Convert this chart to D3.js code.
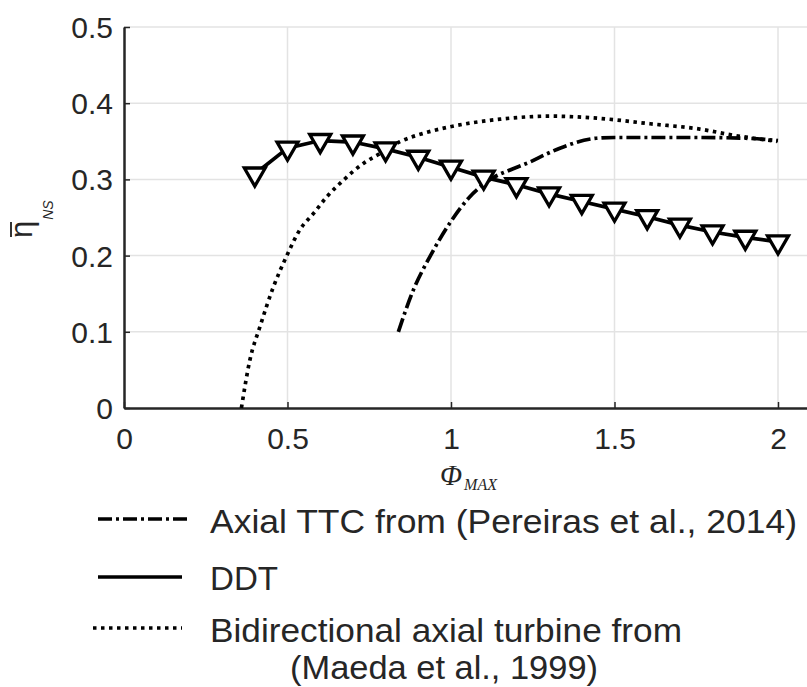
<!DOCTYPE html>
<html>
<head>
<meta charset="utf-8">
<script src="https://cdn.jsdelivr.net/npm/d3@7"></script>
<style>
  body { margin: 0; background: white; }
  svg { display: block; }
  text { font-family: "Liberation Sans", Arial, sans-serif; fill: #262626; }
</style>
</head>
<body>
<script>
var width = 807
var height = 687

// tick values
var xTicks = [0, 0.5, 1, 1.5, 2]
var yTicks = [0, 0.1, 0.2, 0.3, 0.4, 0.5]

// DDT (solid + triangles)
var ddtPhi = [0.4, 0.5, 0.6, 0.7, 0.8, 0.9, 1.0, 1.1, 1.2, 1.3, 1.4, 1.5, 1.6, 1.7, 1.8, 1.9, 2.0]
var ddtEta = [0.307, 0.341, 0.351, 0.349, 0.340, 0.329, 0.316, 0.303, 0.293, 0.281, 0.271, 0.261, 0.251, 0.240, 0.231, 0.224, 0.218]

// Axial TTC (Pereiras et al., 2014), dash-dot
var ttcPhi = [0.839, 0.885, 0.936, 1.0, 1.057, 1.128, 1.19, 1.242, 1.29, 1.333, 1.445, 1.5, 1.76, 1.9, 2.0]
var ttcEta = [0.100, 0.155, 0.199, 0.245, 0.277, 0.302, 0.314, 0.323, 0.333, 0.341, 0.354, 0.355, 0.355, 0.354, 0.351]

// Bidirectional axial turbine (Maeda et al., 1999), dotted
var maedaPhi = [0.359, 0.385, 0.416, 0.457, 0.497, 0.538, 0.579, 0.62, 0.671, 0.732, 0.783, 0.844, 0.92, 0.997, 1.15, 1.303, 1.456, 1.609, 1.761, 1.863, 1.997]
var maedaEta = [0, 0.063, 0.107, 0.159, 0.199, 0.234, 0.255, 0.277, 0.299, 0.321, 0.334, 0.3495, 0.361, 0.369, 0.379, 0.383, 0.380, 0.373, 0.366, 0.358, 0.350]

var legendLabels = ["Axial TTC from (Pereiras et al., 2014)", "DDT", "Bidirectional axial turbine from"]
var legendLabelExtra = "(Maeda et al., 1999)"

var axisColor = "#262626"
var gridColor = "#e3e3e3"
var dashDot = "14,4,3,4"
var dotted = "3.5,4.5"
var lw = 3.7

var svg = d3.select("body")
    .append("svg")
    .attr("width", width)
    .attr("height", height)

var x = d3.scaleLinear().domain([0, 2.1]).range([124, 810.7])
var y = d3.scaleLinear().domain([0, 0.5]).range([408, 27])

// grid
svg.append("g")
    .selectAll("line")
    .data(xTicks.slice(1))
    .enter()
    .append("line")
    .attr("x1", (d) => x(d)).attr("x2", (d) => x(d))
    .attr("y1", y(0)).attr("y2", y(0.5))
    .attr("stroke", gridColor)
    .attr("stroke-width", 1.5)

svg.append("g")
    .selectAll("line")
    .data(yTicks.slice(1))
    .enter()
    .append("line")
    .attr("x1", x(0)).attr("x2", width)
    .attr("y1", (d) => y(d)).attr("y2", (d) => y(d))
    .attr("stroke", gridColor)
    .attr("stroke-width", 1.5)

// axes
var xAxis = svg.append("g")
    .attr("transform", "translate(0," + y(0) + ")")
    .call(d3.axisBottom(x).tickValues(xTicks).tickSizeInner(-6).tickSizeOuter(0).tickPadding(20)
        .tickFormat(d3.format("")))
xAxis.select(".domain").attr("stroke", axisColor).attr("stroke-width", 2.5)
xAxis.selectAll(".tick line").attr("stroke", axisColor).attr("stroke-width", 1.5)
xAxis.selectAll(".tick text")
    .attr("fill", axisColor)
    .style("font-size", "30px")
    .attr("dy", "0.71em")

var yAxis = svg.append("g")
    .attr("transform", "translate(" + x(0) + ",0)")
    .call(d3.axisLeft(y).tickValues(yTicks).tickSizeInner(-6).tickSizeOuter(0).tickPadding(11)
        .tickFormat(d3.format("")))
yAxis.select(".domain").attr("stroke", axisColor).attr("stroke-width", 2.5)
yAxis.selectAll(".tick line").attr("stroke", axisColor).attr("stroke-width", 1.5)
yAxis.selectAll(".tick text")
    .attr("fill", axisColor)
    .style("font-size", "30px")
    .attr("dy", "0.35em")

// curves
var line = d3.line()
    .x(function (d) { return x(d[0]) })
    .y(function (d) { return y(d[1]) })
    .curve(d3.curveMonotoneX)

svg.append("path")
    .datum(d3.zip(maedaPhi, maedaEta))
    .attr("d", line)
    .attr("fill", "none")
    .attr("stroke", "black")
    .attr("stroke-width", lw)
    .attr("stroke-dasharray", dotted)

svg.append("path")
    .datum(d3.zip(ttcPhi, ttcEta))
    .attr("d", line)
    .attr("fill", "none")
    .attr("stroke", "black")
    .attr("stroke-width", lw)
    .attr("stroke-dasharray", dashDot)

var ddt = d3.zip(ddtPhi, ddtEta)

svg.append("path")
    .datum(ddt)
    .attr("d", d3.line().x((d) => x(d[0])).y((d) => y(d[1])))
    .attr("fill", "none")
    .attr("stroke", "black")
    .attr("stroke-width", lw)

svg.append("g")
    .selectAll("path")
    .data(ddt)
    .enter()
    .append("path")
    .attr("d", d3.symbol().type(d3.symbolTriangle).size(190))
    .attr("transform", (d) => "translate(" + x(d[0]) + "," + y(d[1]) + ") rotate(180)")
    .attr("fill", "white")
    .attr("stroke", "black")
    .attr("stroke-width", 3.3)

// axis labels
var yLabel = svg.append("g")
    .attr("transform", "translate(32,238) rotate(-90)")
yLabel.append("line")
    .attr("x1", 1).attr("x2", 16)
    .attr("y1", -21).attr("y2", -21)
    .attr("stroke", "#333")
    .attr("stroke-width", 2)
var yText = yLabel.append("text")
    .style("font-size", "31px")
yText.append("tspan").text("\u03B7")
yText.append("tspan")
    .attr("dy", 21)
    .attr("dx", 1)
    .style("font-size", "14px")
    .style("font-style", "italic")
    .text("NS")

var xLabel = svg.append("text")
    .attr("x", 440)
    .attr("y", 485)
    .style("font-family", "'Liberation Serif', 'Times New Roman', serif")
    .style("font-style", "italic")
    .style("font-size", "29px")
xLabel.append("tspan").text("\u03A6")
xLabel.append("tspan")
    .attr("dy", 5)
    .attr("dx", 2)
    .style("font-size", "16px")
    .text("MAX")

// legend
var legendRows = [
    { y: 519, x1: 98, x2: 187, dash: dashDot, ty: 533, w: 587 },
    { y: 577, x1: 98, x2: 182, dash: null, ty: 590, w: 68 },
    { y: 628, x1: 93, x2: 182, dash: dotted, ty: 642, w: 472 }
]

var legend = svg.append("g")
legend.selectAll("line")
    .data(legendRows)
    .enter()
    .append("line")
    .attr("x1", (d) => d.x1).attr("x2", (d) => d.x2)
    .attr("y1", (d) => d.y).attr("y2", (d) => d.y)
    .attr("stroke", "black")
    .attr("stroke-width", lw)
    .attr("stroke-dasharray", (d) => d.dash)

legend.selectAll("text.lab")
    .data(legendRows)
    .enter()
    .append("text")
    .attr("class", "lab")
    .attr("x", 210)
    .attr("y", (d) => d.ty)
    .attr("textLength", (d) => d.w)
    .attr("lengthAdjust", "spacingAndGlyphs")
    .style("font-size", "33px")
    .text((d, i) => legendLabels[i])

legend.append("text")
    .attr("x", 290)
    .attr("y", 679)
    .attr("textLength", 308)
    .attr("lengthAdjust", "spacingAndGlyphs")
    .style("font-size", "33px")
    .text(legendLabelExtra)
</script>
</body>
</html>
